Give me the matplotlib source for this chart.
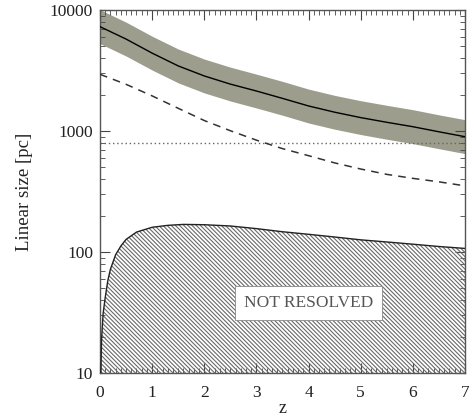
import matplotlib
matplotlib.use("Agg")
import matplotlib.pyplot as plt
from matplotlib.ticker import MultipleLocator, LogLocator, NullFormatter, FixedLocator

plt.rcParams['font.family'] = ['Liberation Serif', 'DejaVu Serif']
plt.rcParams['hatch.linewidth'] = 0.8
plt.rcParams['hatch.color'] = '#6a6a6a'

# --- data ---
z = [0, 0.5, 1, 1.5, 2, 2.5, 3, 3.5, 4, 4.5, 5, 5.5, 6, 6.5, 7]
size_solid = [7280, 5750, 4400, 3450, 2850, 2440, 2140, 1860, 1610, 1430, 1290, 1180, 1085, 985, 897]
band_upper = [10050, 7935, 6070, 4760, 3930, 3370, 2950, 2570, 2220, 1970, 1780, 1630, 1500, 1360, 1240]
band_lower = [5275, 4165, 3190, 2500, 2065, 1770, 1550, 1350, 1165, 1035, 935, 855, 786, 714, 650]
size_dashed = [2940, 2430, 1950, 1540, 1220, 1005, 840, 715, 625, 545, 485, 438, 406, 380, 352]
dotted_level = 790

z_res = [0.0, 0.005, 0.015, 0.03, 0.06, 0.1, 0.15, 0.2, 0.3, 0.4, 0.5, 0.7, 1.0, 1.3, 1.6,
         2.0, 2.5, 3.0, 3.5, 4.0, 4.5, 5.0, 5.5, 6.0, 6.5, 7.0]
size_res = [1, 3, 9, 19, 31, 42, 58, 72, 95, 112, 127, 146, 160, 166, 169,
            168, 164, 156, 147, 140, 133, 126, 121, 116, 111, 107]

label_text = "NOT RESOLVED"
xticks = [0, 1, 2, 3, 4, 5, 6, 7]
yticks = [10, 100, 1000, 10000]
ytick_labels = ["10", "100", "1000", "10000"]

fig = plt.figure(figsize=(4.73, 4.16), dpi=100)
ax = fig.add_axes([0.2114, 0.1034, 0.7716, 0.8726])

ax.fill_between(z, band_lower, band_upper, color='#9c9d8c', linewidth=0, zorder=1)
ax.plot(z, size_solid, color='black', lw=1.0, zorder=3)
ax.plot(z, size_dashed, color='#333333', lw=1.1, ls=(0, (5, 4)), zorder=3)
ax.axhline(dotted_level, color='#666666', lw=1.0, ls=(0, (1, 2)), zorder=2)

ax.fill_between(z_res, 1, size_res, facecolor='none', edgecolor='#6a6a6a',
                hatch='\\' * 8, linewidth=0, zorder=2)
ax.plot(z_res, size_res, color='#222222', lw=1.0, zorder=3)

ax.text(4.0, 38, label_text, ha='center', va='center', fontsize=12.5, color='#555555',
        bbox=dict(boxstyle='square,pad=0.5', facecolor='white', edgecolor='#888888', lw=0.6),
        zorder=5)

ax.set_yscale('log')
ax.set_xlim(0, 7)
ax.set_ylim(10, 10000)

ax.xaxis.set_major_locator(FixedLocator(xticks))
ax.xaxis.set_minor_locator(MultipleLocator(0.1))
ax.yaxis.set_major_locator(FixedLocator(yticks))
ax.set_yticklabels(ytick_labels)
ax.yaxis.set_minor_locator(LogLocator(base=10, subs=range(2, 10)))
ax.yaxis.set_minor_formatter(NullFormatter())

ax.tick_params(which='both', direction='in', top=True, right=True, colors='#444444',
               labelcolor='#222222', labelsize=12.5)
ax.tick_params(axis='x', which='major', pad=9)
ax.tick_params(axis='y', which='major', pad=5)
ax.tick_params(which='major', length=7, width=0.8)
ax.tick_params(which='minor', length=3.5, width=0.6)
for s in ax.spines.values():
    s.set_color('#555555')
    s.set_linewidth(1.0)

ax.set_ylabel('Linear size [pc]', fontsize=13.5, color='#222222', labelpad=12)
ax.set_xlabel('z', fontsize=13, color='#222222', labelpad=-1)

fig.savefig('out.png', dpi=100)
